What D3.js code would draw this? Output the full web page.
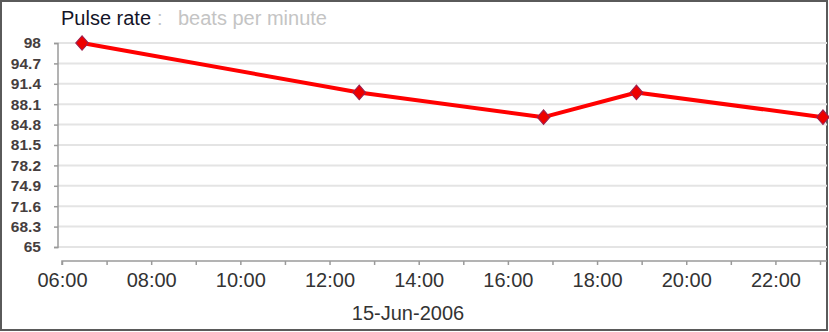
<!DOCTYPE html>
<html><head><meta charset="utf-8">
<script src="https://cdn.jsdelivr.net/npm/d3@7"></script>
<style>body{margin:0;background:#fff}svg{display:block}text{font-family:"Liberation Sans",Arial,sans-serif}</style>
</head><body><svg id="c" width="829" height="332"></svg>
<script>
const times = ["2006-06-15T06:27","2006-06-15T12:40","2006-06-15T16:48","2006-06-15T18:53","2006-06-15T23:04"];
const values = [98, 90, 86, 90, 86];
const yTicks = [65, 68.3, 71.6, 74.9, 78.2, 81.5, 84.8, 88.1, 91.4, 94.7, 98];
const title = "Pulse rate";
const subtitle = "beats per minute";
const dateLabel = "15-Jun-2006";

const parse = d3.timeParse("%Y-%m-%dT%H:%M");
const data = times.map((t,i)=>({t:parse(t), v:values[i]}));
const svg = d3.select("#c");

const x = d3.scaleTime().domain([parse("2006-06-15T06:00"), parse("2006-06-15T23:00")]).range([62, 820]);
const y = d3.scaleLinear().domain([65, 98]).range([247, 43]);
const right = 827;

// border
svg.append("rect").attr("x",1).attr("y",1).attr("width",826).attr("height",329)
  .attr("fill","#fff").attr("stroke","#5a5a5a").attr("stroke-width",2);

// gridlines
svg.append("g").selectAll("line").data(yTicks).join("line")
  .attr("x1",58).attr("x2",right).attr("y1",d=>y(d)).attr("y2",d=>y(d))
  .attr("stroke","#e4e4e4").attr("stroke-width",2);

// y axis
const ya = svg.append("g").attr("transform","translate(58,0)")
  .call(d3.axisLeft(y).tickValues(yTicks).tickSize(4).tickPadding(13).tickFormat(d=>String(d)));
ya.select(".domain").attr("stroke","#9a9a9a").attr("stroke-width",1.5).attr("d","M-4,43.5H0V247.5H-4");
ya.selectAll(".tick line").attr("stroke","#9a9a9a").attr("stroke-width",1.5);
ya.selectAll(".tick text").attr("font-family","'Liberation Sans',Arial,sans-serif")
  .attr("font-size",15.5).attr("font-weight","bold").attr("fill","#463e3e");

// x axis
const xa = svg.append("g").attr("transform","translate(0,261)")
  .call(d3.axisBottom(x).ticks(d3.timeHour.every(1)).tickSize(4).tickPadding(8)
    .tickFormat(d=> d.getHours()%2===0 ? d3.timeFormat("%H:%M")(d) : ""));
xa.select(".domain").attr("stroke","#9a9a9a").attr("stroke-width",1.5).attr("d","M62,4V0H"+right);
xa.selectAll(".tick line").attr("stroke","#9a9a9a").attr("stroke-width",1.5);
xa.selectAll(".tick text").attr("font-family","'Liberation Sans',Arial,sans-serif")
  .attr("font-size",20).attr("fill","#333");

svg.append("text").attr("x",408).attr("y",320).attr("text-anchor","middle")
  .attr("font-size",20).attr("fill","#333").text(dateLabel);

// title
svg.append("text").attr("x",61).attr("y",25).attr("font-size",20).attr("fill","#141428").text(title);
svg.append("text").attr("x",157).attr("y",25).attr("font-size",20).attr("fill","#c4c4c4").text(":");
svg.append("text").attr("x",178).attr("y",25).attr("font-size",20).attr("fill","#c4c4c4").text(subtitle);

// line
svg.append("path").datum(data)
  .attr("d", d3.line().x(d=>x(d.t)).y(d=>y(d.v)))
  .attr("fill","none").attr("stroke","#ff0000").attr("stroke-width",4).attr("stroke-linejoin","round");

// markers
svg.append("g").selectAll("path").data(data).join("path")
  .attr("d", d3.symbol().type(d3.symbolSquare).size(80)())
  .attr("transform", d=>`translate(${x(d.t)},${y(d.v)}) scale(1,1.15) rotate(45)`)
  .attr("fill","#ee0000").attr("stroke","#9a2050").attr("stroke-width",1);
</script></body></html>
